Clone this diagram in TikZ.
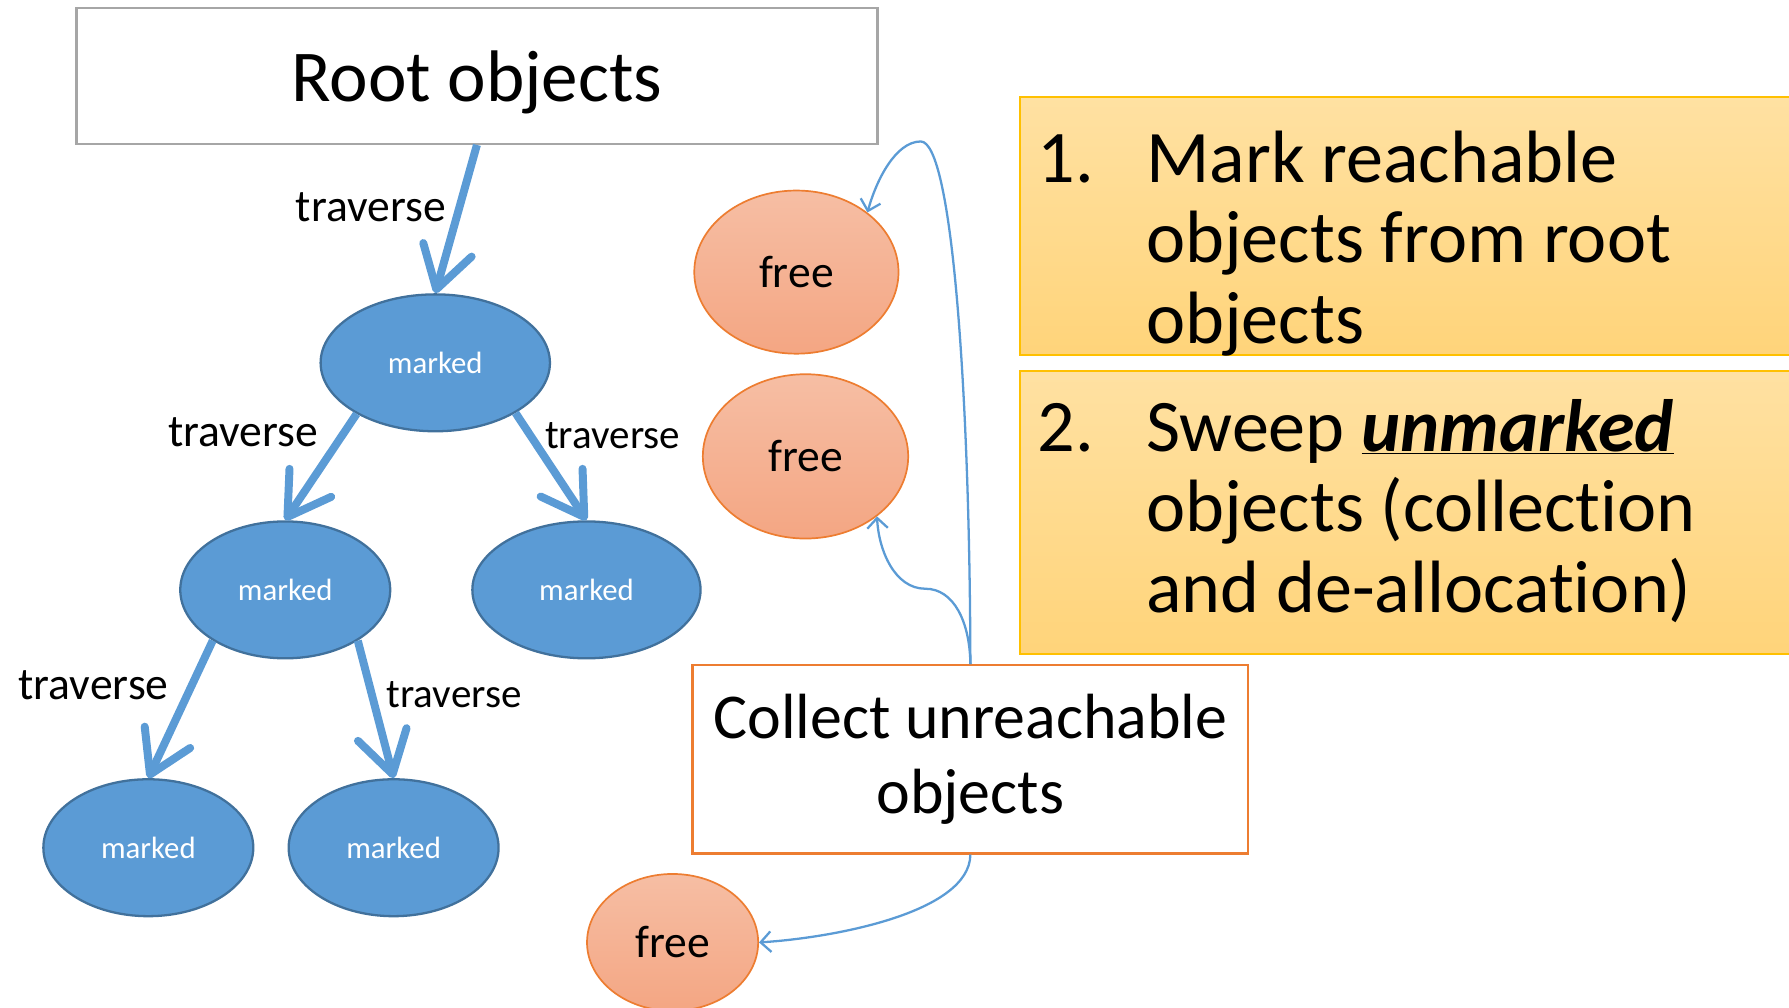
\documentclass[tikz,border=0pt]{standalone}
\usepackage{fontspec}
\setmainfont{Carlito}[Ligatures=NoCommon]
\usetikzlibrary{arrows.meta,shapes.geometric,positioning,calc}
\definecolor{markblue}{HTML}{5B9BD5}
\definecolor{markedge}{HTML}{41719C}
\definecolor{freeedge}{HTML}{ED7D31}
\definecolor{freetop}{RGB}{246,190,164}
\definecolor{freebot}{RGB}{244,166,131}
\definecolor{steptop}{RGB}{255,225,162}
\definecolor{stepbot}{RGB}{255,212,122}
\definecolor{stepedge}{HTML}{FFC000}
\definecolor{rootedge}{HTML}{A6A6A6}
\begin{document}
\begin{tikzpicture}
 [x=1pt,y=-1pt,
 marked/.style={ellipse,draw=markedge,fill=markblue,line width=2pt,
  minimum width=#1,minimum height=120pt,inner sep=0pt,text=white,
  font=\fontsize{27}{32}\selectfont},
 free/.style={ellipse,draw=freeedge,top color=freetop,bottom color=freebot,
  line width=1.5pt,inner sep=0pt,font=\fontsize{40}{48}\selectfont},
 lab/.style={font=\fontsize{40}{48}\selectfont,inner sep=0pt},
 labs/.style={font=\fontsize{36}{43}\selectfont,inner sep=0pt},
 trav/.style={line width=7pt,markblue,-{Straight Barb[length=36pt,width=44pt,round]}},
 link/.style={line width=2pt,markblue,-{Straight Barb[length=9pt,width=18pt]}},
 stepbox/.style={draw=stepedge,line width=1.5pt,top color=steptop,bottom color=stepbot,
  minimum width=682pt,inner sep=0pt},
 steptext/.style={anchor=base west,align=left,inner sep=0pt,
  font=\fontsize{65}{70.5}\selectfont}]
\useasboundingbox (0,0) rectangle (1568,883);

\node (root) at (418,66.5) [draw=rootedge,line width=2pt,minimum width=702pt,
 minimum height=119pt,text depth=0pt,font=\fontsize{64}{76}\selectfont] {Root objects};

\node (m1) at (381.5,318) [marked=201pt] {marked};
\node (m2) at (250,517) [marked=184pt] {marked};
\node (m3) at (514,517) [marked=200pt] {marked};
\node (m4) at (130,743) [marked=184pt] {marked};
\node (m5) at (345,743) [marked=184pt] {marked};

\node (f1) at (698,238.5) [free,minimum width=179pt,minimum height=143pt] {free};
\node (f2) at (706,400) [free,minimum width=180pt,minimum height=144pt] {free};
\node (f3) at (589.5,826) [free,minimum width=150pt,minimum height=120pt] {free};

\node (coll) at (850.5,665.5) [draw=freeedge,line width=2pt,minimum width=487pt,
 minimum height=165pt,align=center,font=\fontsize{56}{66}\selectfont]
 {Collect unreachable\\objects};

\node (s1) at (1235,198) [stepbox,minimum height=226pt] {};
\node (s2) at (1235,449) [stepbox,minimum height=248pt] {};
\node (n1) at (909.5,160) [steptext] {1.};
\node (t1) at (1004.4,301) [steptext] {Mark reachable\\objects from root\\objects};
\node (n2) at (909.5,395.5) [steptext] {2.};
\node (t2) at (1004.4,536.5) [steptext]
 {Sweep \underline{\textbf{\textit{unmarked}}}\\objects (collection\\and de-allocation)};

\draw[trav] (root.south) -- (m1.north);
\draw[trav] (m1.213) -- (m2.north);
\draw[trav] (m1.328) -- (m3.north);
\draw[trav] (m2.215) -- (m4.north);
\draw[trav] (m2.325) -- (m5.north);

\node (l0) at (325,182) [lab] {traverse};
\node (l1) at (213,379) [lab] {traverse};
\node (l2) at (537,382) [labs] {traverse};
\node (l3) at (82,601) [lab] {traverse};
\node (l4) at (398,609) [labs] {traverse};

\coordinate (peak) at (807,124);
\coordinate (dip) at (811,516);
\draw[link] (coll.north) .. controls (850,350) and (835,124) .. (peak)
 .. controls (785,124) and (768,158) .. (f1.40);
\draw[link] (coll.north) .. controls (850,545) and (836,516) .. (dip)
 .. controls (784,516) and (770,482) .. (f2.320);
\draw[link] (coll.south) .. controls (850,800) and (730,822) .. (f3.east);
\end{tikzpicture}
\end{document}
